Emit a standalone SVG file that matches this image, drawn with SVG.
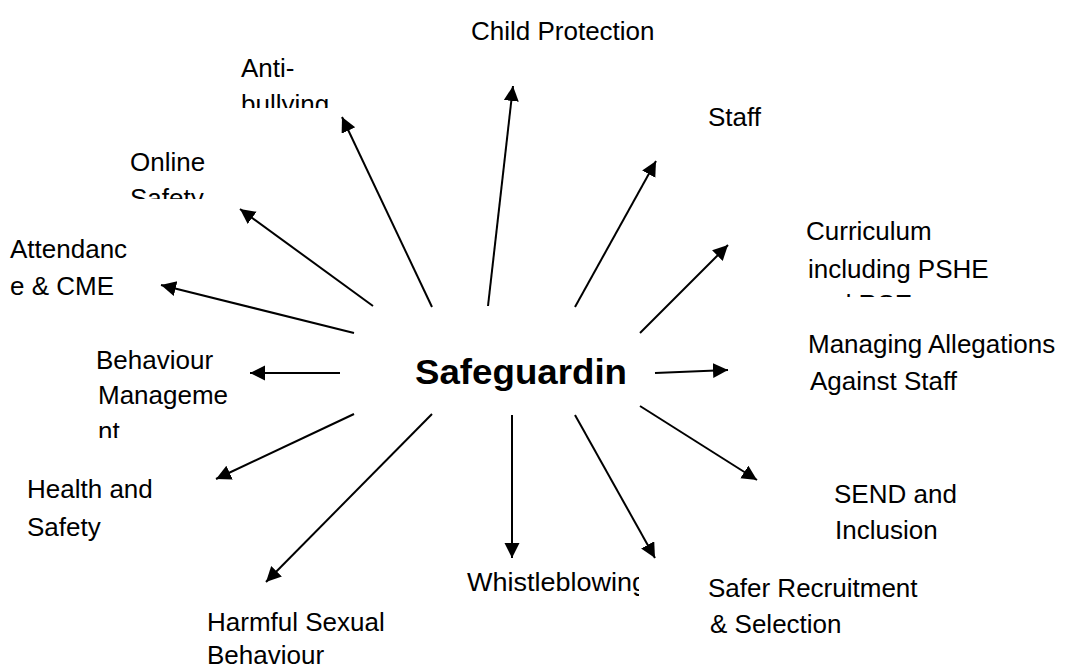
<svg xmlns="http://www.w3.org/2000/svg" width="1066" height="668" viewBox="0 0 1066 668">
<style>
  .lbl { font-family: "Liberation Sans", Arial, sans-serif; font-size: 26px; fill: #000; }
  .hub { font-family: "Liberation Sans", Arial, sans-serif; font-size: 35px; font-weight: bold; fill: #000; }
  .arr { stroke: #000; stroke-width: 2; fill: none; marker-end: url(#ah); }
</style>
<defs>
  <marker id="ah" markerUnits="userSpaceOnUse" markerWidth="16" markerHeight="16" refX="15" refY="7.5" orient="auto">
    <path d="M0,0 L15,7.5 L0,15 z" fill="#000"/>
  </marker>
  <clipPath id="cAnti"><rect x="200" y="40" width="200" height="68"/></clipPath>
  <clipPath id="cOnline"><rect x="100" y="130" width="200" height="69"/></clipPath>
  <clipPath id="cCurr"><rect x="790" y="200" width="276" height="97"/></clipPath>
  <clipPath id="cBeh"><rect x="80" y="330" width="200" height="108"/></clipPath>
  <clipPath id="cWhistle"><rect x="450" y="560" width="189" height="50"/></clipPath>
</defs>
<rect width="1066" height="668" fill="#fff"/>

<g id="connectors">
  <line class="arr" x1="488" y1="306" x2="513" y2="86"/>
  <line class="arr" x1="432" y1="307" x2="342" y2="117"/>
  <line class="arr" x1="575" y1="307" x2="656" y2="161"/>
  <line class="arr" x1="373" y1="306" x2="240" y2="209"/>
  <line class="arr" x1="354" y1="333" x2="161" y2="285"/>
  <line class="arr" x1="640" y1="333" x2="728" y2="245"/>
  <line class="arr" x1="340" y1="373" x2="250" y2="373"/>
  <line class="arr" x1="655" y1="373" x2="728" y2="370"/>
  <line class="arr" x1="354" y1="414" x2="216" y2="479"/>
  <line class="arr" x1="432" y1="414" x2="266" y2="582"/>
  <line class="arr" x1="512" y1="415" x2="512" y2="558"/>
  <line class="arr" x1="575" y1="415" x2="655" y2="558"/>
  <line class="arr" x1="640" y1="406" x2="757" y2="480"/>
</g>

<g id="hub">
  <text class="hub" x="415" y="384" textLength="212" lengthAdjust="spacingAndGlyphs">Safeguardin</text>
</g>

<g id="child-protection">
  <text class="lbl" x="471" y="40">Child Protection</text>
</g>
<g id="anti-bullying" clip-path="url(#cAnti)">
  <text class="lbl" x="241" y="77">Anti-</text>
  <text class="lbl" x="241" y="113">bullying</text>
</g>
<g id="staff">
  <text class="lbl" x="708" y="126">Staff</text>
</g>
<g id="online-safety" clip-path="url(#cOnline)">
  <text class="lbl" x="130" y="171">Online</text>
  <text class="lbl" x="130" y="207">Safety</text>
</g>
<g id="curriculum" clip-path="url(#cCurr)">
  <text class="lbl" x="806" y="240">Curriculum</text>
  <text class="lbl" x="808" y="278">including PSHE</text>
  <text class="lbl" x="808" y="313">and RSE</text>
</g>
<g id="attendance">
  <text class="lbl" x="10" y="258">Attendanc</text>
  <text class="lbl" x="10" y="295">e &amp; CME</text>
</g>
<g id="managing-allegations">
  <text class="lbl" x="808" y="353">Managing Allegations</text>
  <text class="lbl" x="810" y="390">Against Staff</text>
</g>
<g id="behaviour-management" clip-path="url(#cBeh)">
  <text class="lbl" x="96" y="369">Behaviour</text>
  <text class="lbl" x="98" y="404">Manageme</text>
  <text class="lbl" x="98" y="440">nt</text>
</g>
<g id="health-safety">
  <text class="lbl" x="27" y="498">Health and</text>
  <text class="lbl" x="27" y="536">Safety</text>
</g>
<g id="send">
  <text class="lbl" x="834" y="503">SEND and</text>
  <text class="lbl" x="835" y="539">Inclusion</text>
</g>
<g id="whistleblowing" clip-path="url(#cWhistle)">
  <text class="lbl" x="467" y="591" textLength="180" lengthAdjust="spacingAndGlyphs">Whistleblowing</text>
</g>
<g id="safer-recruitment">
  <text class="lbl" x="708" y="597">Safer Recruitment</text>
  <text class="lbl" x="710" y="633">&amp; Selection</text>
</g>
<g id="harmful-sexual-behaviour">
  <text class="lbl" x="207" y="631">Harmful Sexual</text>
  <text class="lbl" x="207" y="664">Behaviour</text>
</g>
</svg>
